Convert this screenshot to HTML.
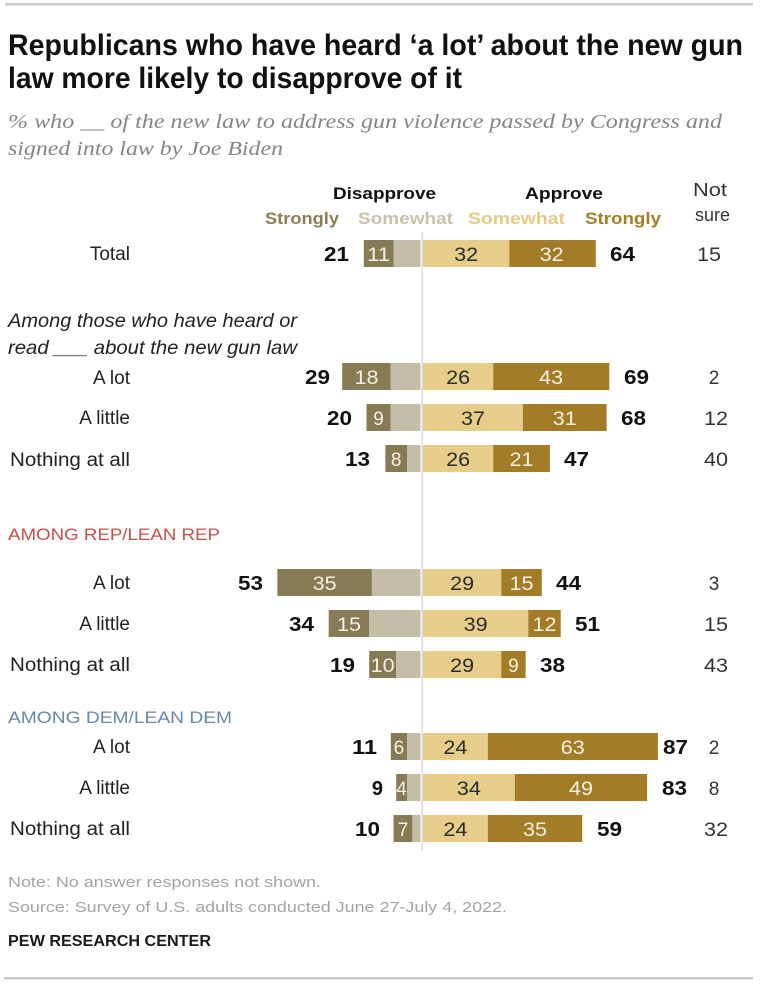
<!DOCTYPE html>
<html>
<head>
<meta charset="utf-8">
<style>
  html,body{margin:0;padding:0;background:#fff;}
  svg{display:block;}
</style>
</head>
<body>
<svg width="760" height="987" viewBox="0 0 760 987" xmlns="http://www.w3.org/2000/svg" font-family="Liberation Sans, sans-serif">
  <rect x="0" y="0" width="760" height="987" fill="#fff"/>
  <!-- top rule -->
  <rect x="5" y="3" width="748" height="2.5" fill="#c9c9c9"/>

  <!-- Title -->
  <text x="8" y="55" font-size="30" font-weight="bold" fill="#111" textLength="735" lengthAdjust="spacingAndGlyphs">Republicans who have heard ‘a lot’ about the new gun</text>
  <text x="8" y="88" font-size="30" font-weight="bold" fill="#111" textLength="454" lengthAdjust="spacingAndGlyphs">law more likely to disapprove of it</text>

  <!-- Subtitle -->
  <text x="8" y="128" font-family="Liberation Serif, serif" font-style="italic" font-size="19.5" fill="#858585" textLength="714" lengthAdjust="spacingAndGlyphs">% who __ of the new law to address gun violence passed by Congress and</text>
  <text x="8" y="155" font-family="Liberation Serif, serif" font-style="italic" font-size="19.5" fill="#858585" textLength="275" lengthAdjust="spacingAndGlyphs">signed into law by Joe Biden</text>

  <!-- Column headers -->
  <text x="333" y="199" font-size="17" font-weight="bold" fill="#111" textLength="103" lengthAdjust="spacingAndGlyphs">Disapprove</text>
  <text x="525" y="199" font-size="17" font-weight="bold" fill="#111" textLength="78" lengthAdjust="spacingAndGlyphs">Approve</text>
  <text x="265" y="224" font-size="16.5" font-weight="bold" fill="#8a7e58" textLength="74" lengthAdjust="spacingAndGlyphs">Strongly</text>
  <text x="358" y="224" font-size="16.5" font-weight="bold" fill="#c8c1ab" textLength="95" lengthAdjust="spacingAndGlyphs">Somewhat</text>
  <text x="468" y="224" font-size="16.5" font-weight="bold" fill="#e3cb88" textLength="97" lengthAdjust="spacingAndGlyphs">Somewhat</text>
  <text x="585" y="224" font-size="16.5" font-weight="bold" fill="#a47d27" textLength="76" lengthAdjust="spacingAndGlyphs">Strongly</text>
  <text x="693" y="196" font-size="18" fill="#333" textLength="34" lengthAdjust="spacingAndGlyphs">Not</text>
  <text x="695" y="221" font-size="18" fill="#333" textLength="35" lengthAdjust="spacingAndGlyphs">sure</text>

  <!-- center line -->
  <rect x="421.5" y="232" width="1.5" height="618" fill="#dadae2"/>

  <!-- Group labels -->
  <text x="8" y="327" font-size="19" font-style="italic" fill="#222" textLength="289" lengthAdjust="spacingAndGlyphs">Among those who have heard or</text>
  <text x="8" y="354" font-size="19" font-style="italic" fill="#222" textLength="289" lengthAdjust="spacingAndGlyphs">read ___ about the new gun law</text>
  <text x="8" y="540" font-size="17" fill="#c5504b" textLength="212" lengthAdjust="spacingAndGlyphs">AMONG REP/LEAN REP</text>
  <text x="8" y="723" font-size="17" fill="#6a88a6" textLength="224" lengthAdjust="spacingAndGlyphs">AMONG DEM/LEAN DEM</text>

  <!-- Row labels -->
  <g font-size="19" fill="#222" text-anchor="end">
    <text x="130" y="260">Total</text>
    <text x="130" y="384">A lot</text>
    <text x="130" y="424">A little</text>
    <text x="130" y="466" textLength="120" lengthAdjust="spacingAndGlyphs">Nothing at all</text>
    <text x="130" y="589">A lot</text>
    <text x="130" y="630">A little</text>
    <text x="130" y="671" textLength="120" lengthAdjust="spacingAndGlyphs">Nothing at all</text>
    <text x="130" y="753">A lot</text>
    <text x="130" y="794">A little</text>
    <text x="130" y="835" textLength="120" lengthAdjust="spacingAndGlyphs">Nothing at all</text>
  </g>

  <!-- Bars -->
  <g>
    <rect x="363.8" y="240" width="29.7" height="27" fill="#877b55"/>
    <rect x="393.5" y="240" width="27" height="27" fill="#c4bda7"/>
    <rect x="423" y="240" width="86.4" height="27" fill="#e6cd8a"/>
    <rect x="509.4" y="240" width="86.4" height="27" fill="#a27c26"/>

    <rect x="342.2" y="363" width="48.6" height="27" fill="#877b55"/>
    <rect x="390.8" y="363" width="29.7" height="27" fill="#c4bda7"/>
    <rect x="423" y="363" width="70.2" height="27" fill="#e6cd8a"/>
    <rect x="493.2" y="363" width="116.1" height="27" fill="#a27c26"/>

    <rect x="366.5" y="404" width="24.3" height="27" fill="#877b55"/>
    <rect x="390.8" y="404" width="29.7" height="27" fill="#c4bda7"/>
    <rect x="423" y="404" width="99.9" height="27" fill="#e6cd8a"/>
    <rect x="522.9" y="404" width="83.7" height="27" fill="#a27c26"/>

    <rect x="385.4" y="445" width="21.6" height="27" fill="#877b55"/>
    <rect x="407" y="445" width="13.5" height="27" fill="#c4bda7"/>
    <rect x="423" y="445" width="70.2" height="27" fill="#e6cd8a"/>
    <rect x="493.2" y="445" width="56.7" height="27" fill="#a27c26"/>

    <rect x="277.4" y="569" width="94.5" height="27" fill="#877b55"/>
    <rect x="371.9" y="569" width="48.6" height="27" fill="#c4bda7"/>
    <rect x="423" y="569" width="78.3" height="27" fill="#e6cd8a"/>
    <rect x="501.3" y="569" width="40.5" height="27" fill="#a27c26"/>

    <rect x="328.7" y="610" width="40.5" height="27" fill="#877b55"/>
    <rect x="369.2" y="610" width="51.3" height="27" fill="#c4bda7"/>
    <rect x="423" y="610" width="105.3" height="27" fill="#e6cd8a"/>
    <rect x="528.3" y="610" width="32.4" height="27" fill="#a27c26"/>

    <rect x="369.2" y="651" width="27" height="27" fill="#877b55"/>
    <rect x="396.2" y="651" width="24.3" height="27" fill="#c4bda7"/>
    <rect x="423" y="651" width="78.3" height="27" fill="#e6cd8a"/>
    <rect x="501.3" y="651" width="24.3" height="27" fill="#a27c26"/>

    <rect x="390.8" y="733" width="16.2" height="27" fill="#877b55"/>
    <rect x="407" y="733" width="13.5" height="27" fill="#c4bda7"/>
    <rect x="423" y="733" width="64.8" height="27" fill="#e6cd8a"/>
    <rect x="487.8" y="733" width="170.1" height="27" fill="#a27c26"/>

    <rect x="396.2" y="774" width="10.8" height="27" fill="#877b55"/>
    <rect x="407" y="774" width="13.5" height="27" fill="#c4bda7"/>
    <rect x="423" y="774" width="91.8" height="27" fill="#e6cd8a"/>
    <rect x="514.8" y="774" width="132.3" height="27" fill="#a27c26"/>

    <rect x="393.5" y="815" width="18.9" height="27" fill="#877b55"/>
    <rect x="412.4" y="815" width="8.1" height="27" fill="#c4bda7"/>
    <rect x="423" y="815" width="64.8" height="27" fill="#e6cd8a"/>
    <rect x="487.8" y="815" width="94.5" height="27" fill="#a27c26"/>
  </g>

  <!-- In-bar labels: white on dark -->
  <g font-size="19" fill="#f4f0e4" text-anchor="middle">
    <text x="378.6" y="261" textLength="23" lengthAdjust="spacingAndGlyphs">11</text>
    <text x="551.6" y="261" textLength="24" lengthAdjust="spacingAndGlyphs">32</text>
    <text x="366.5" y="384" textLength="24" lengthAdjust="spacingAndGlyphs">18</text>
    <text x="551.2" y="384" textLength="24" lengthAdjust="spacingAndGlyphs">43</text>
    <text x="378.6" y="425">9</text>
    <text x="564.8" y="425" textLength="24" lengthAdjust="spacingAndGlyphs">31</text>
    <text x="396.2" y="466">8</text>
    <text x="521.5" y="466" textLength="24" lengthAdjust="spacingAndGlyphs">21</text>
    <text x="324.6" y="590" textLength="24" lengthAdjust="spacingAndGlyphs">35</text>
    <text x="521.5" y="590" textLength="24" lengthAdjust="spacingAndGlyphs">15</text>
    <text x="349" y="631" textLength="24" lengthAdjust="spacingAndGlyphs">15</text>
    <text x="544.5" y="631" textLength="24" lengthAdjust="spacingAndGlyphs">12</text>
    <text x="382.7" y="672" textLength="24" lengthAdjust="spacingAndGlyphs">10</text>
    <text x="513.4" y="672">9</text>
    <text x="398.9" y="754">6</text>
    <text x="572.8" y="754" textLength="24" lengthAdjust="spacingAndGlyphs">63</text>
    <text x="401.6" y="795">4</text>
    <text x="581" y="795" textLength="24" lengthAdjust="spacingAndGlyphs">49</text>
    <text x="403" y="836">7</text>
    <text x="535" y="836" textLength="24" lengthAdjust="spacingAndGlyphs">35</text>
  </g>
  <!-- In-bar labels: dark on light -->
  <g font-size="19" fill="#2b2b2b" text-anchor="middle">
    <text x="466.2" y="261" textLength="24" lengthAdjust="spacingAndGlyphs">32</text>
    <text x="458.1" y="384" textLength="24" lengthAdjust="spacingAndGlyphs">26</text>
    <text x="473" y="425" textLength="24" lengthAdjust="spacingAndGlyphs">37</text>
    <text x="458.1" y="466" textLength="24" lengthAdjust="spacingAndGlyphs">26</text>
    <text x="462.1" y="590" textLength="24" lengthAdjust="spacingAndGlyphs">29</text>
    <text x="475.6" y="631" textLength="24" lengthAdjust="spacingAndGlyphs">39</text>
    <text x="462.1" y="672" textLength="24" lengthAdjust="spacingAndGlyphs">29</text>
    <text x="455.4" y="754" textLength="24" lengthAdjust="spacingAndGlyphs">24</text>
    <text x="468.9" y="795" textLength="24" lengthAdjust="spacingAndGlyphs">34</text>
    <text x="455.4" y="836" textLength="24" lengthAdjust="spacingAndGlyphs">24</text>
  </g>

  <!-- Disapprove totals -->
  <g font-size="20" font-weight="bold" fill="#111" text-anchor="end">
    <text x="349" y="261" textLength="25" lengthAdjust="spacingAndGlyphs">21</text>
    <text x="330" y="384" textLength="25" lengthAdjust="spacingAndGlyphs">29</text>
    <text x="352" y="425" textLength="25" lengthAdjust="spacingAndGlyphs">20</text>
    <text x="370" y="466" textLength="25" lengthAdjust="spacingAndGlyphs">13</text>
    <text x="263" y="590" textLength="25" lengthAdjust="spacingAndGlyphs">53</text>
    <text x="314" y="631" textLength="25" lengthAdjust="spacingAndGlyphs">34</text>
    <text x="355" y="672" textLength="25" lengthAdjust="spacingAndGlyphs">19</text>
    <text x="377" y="754" textLength="25" lengthAdjust="spacingAndGlyphs">11</text>
    <text x="383" y="795">9</text>
    <text x="380" y="836" textLength="25" lengthAdjust="spacingAndGlyphs">10</text>
  </g>
  <!-- Approve totals -->
  <g font-size="20" font-weight="bold" fill="#111">
    <text x="610" y="261" textLength="25" lengthAdjust="spacingAndGlyphs">64</text>
    <text x="624" y="384" textLength="25" lengthAdjust="spacingAndGlyphs">69</text>
    <text x="621" y="425" textLength="25" lengthAdjust="spacingAndGlyphs">68</text>
    <text x="564" y="466" textLength="25" lengthAdjust="spacingAndGlyphs">47</text>
    <text x="556" y="590" textLength="25" lengthAdjust="spacingAndGlyphs">44</text>
    <text x="575" y="631" textLength="25" lengthAdjust="spacingAndGlyphs">51</text>
    <text x="540" y="672" textLength="25" lengthAdjust="spacingAndGlyphs">38</text>
    <text x="663" y="754" textLength="25" lengthAdjust="spacingAndGlyphs">87</text>
    <text x="662" y="795" textLength="25" lengthAdjust="spacingAndGlyphs">83</text>
    <text x="597" y="836" textLength="25" lengthAdjust="spacingAndGlyphs">59</text>
  </g>
  <!-- Not sure -->
  <g font-size="19" fill="#333" text-anchor="middle">
    <text x="709" y="261" textLength="24" lengthAdjust="spacingAndGlyphs">15</text>
    <text x="714" y="384">2</text>
    <text x="716" y="425" textLength="24" lengthAdjust="spacingAndGlyphs">12</text>
    <text x="716" y="466" textLength="24" lengthAdjust="spacingAndGlyphs">40</text>
    <text x="714" y="590">3</text>
    <text x="716" y="631" textLength="24" lengthAdjust="spacingAndGlyphs">15</text>
    <text x="716" y="672" textLength="24" lengthAdjust="spacingAndGlyphs">43</text>
    <text x="714" y="754">2</text>
    <text x="714" y="795">8</text>
    <text x="716" y="836" textLength="24" lengthAdjust="spacingAndGlyphs">32</text>
  </g>

  <!-- Footer -->
  <text x="8" y="887" font-size="15" fill="#a3a3a3" textLength="313" lengthAdjust="spacingAndGlyphs">Note: No answer responses not shown.</text>
  <text x="8" y="912" font-size="15" fill="#a3a3a3" textLength="499" lengthAdjust="spacingAndGlyphs">Source: Survey of U.S. adults conducted June 27-July 4, 2022.</text>
  <text x="8" y="946" font-size="16" font-weight="bold" fill="#1a1a1a" textLength="203" lengthAdjust="spacingAndGlyphs">PEW RESEARCH CENTER</text>

  <!-- bottom rule -->
  <rect x="4" y="977" width="749" height="2.5" fill="#c9c9c9"/>
</svg>
</body>
</html>
